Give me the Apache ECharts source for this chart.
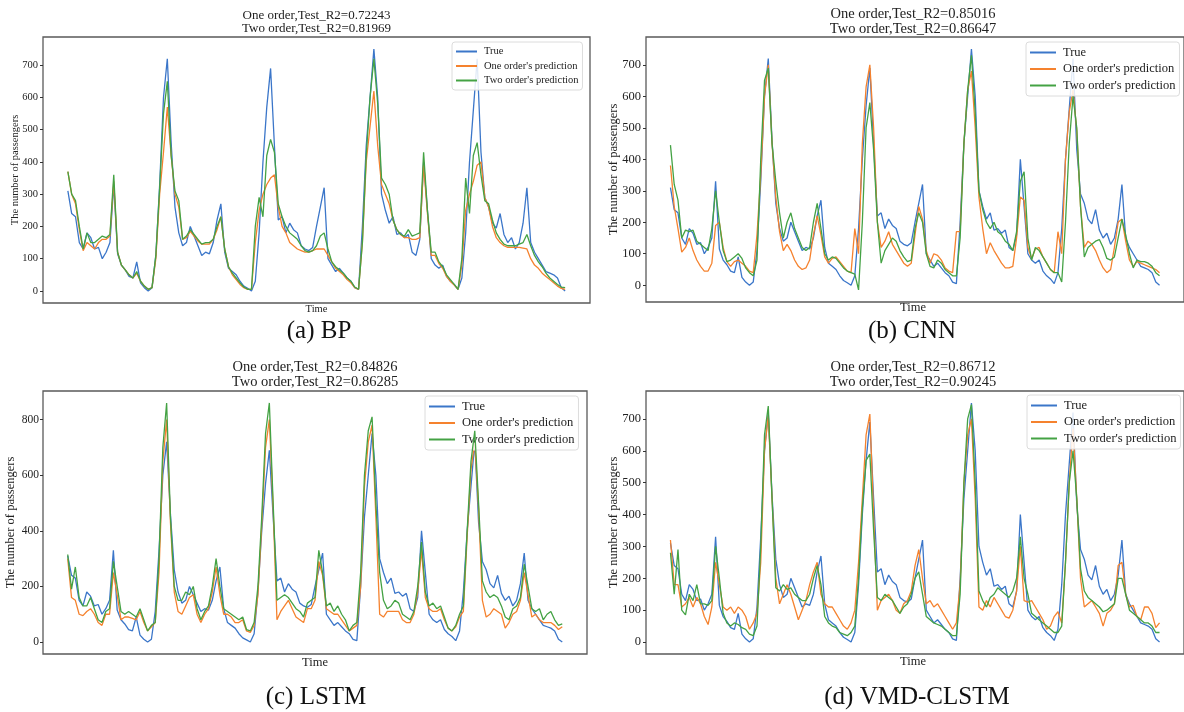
<!DOCTYPE html>
<html>
<head>
<meta charset="utf-8">
<script src="https://cdn.jsdelivr.net/npm/echarts@6/dist/echarts.min.js"></script>
<style>
  html, body { margin: 0; padding: 0; background: #fff; }
  #main { width: 1184px; height: 712px; }
</style>
</head>
<body>
<div id="main"></div>
<script>
// 真实客流（四个子图共用）
var trueValues = [310,240,230,150,130,180,165,130,135,100, 120,150,330,115,80,65,45,40,90,25,
  10,0,10,110,330,600,720,460,260,180, 140,150,200,170,140,110,120,115,150,220,
  270,120,70,60,50,30,15,8,0,30, 180,400,570,690,450,220,230,180,210,190,
  180,140,130,125,135,200,260,320,100,80, 60,70,55,40,30,10,5,200,450,600,
  750,600,300,250,210,230,175,180,165,175, 120,110,160,400,250,100,80,70,80,45,
  30,20,5,40,180,400,560,720,430,290, 260,210,195,240,175,150,165,130,150,210,
  320,150,120,100,80,60,55,50,40,10, 0];

// (a) BP
var bpOne = [370,300,270,190,125,150,140,130,150,160, 160,170,340,120,80,65,50,40,55,30,
  15,5,10,100,300,430,570,420,300,260, 160,165,185,170,155,145,145,145,160,190,
  230,130,75,50,35,20,10,5,5,150, 250,300,330,350,360,260,200,180,150,140,
  130,125,120,120,125,130,130,130,110,90, 70,60,50,35,25,10,5,150,400,510,
  620,450,330,300,270,220,190,175,165,165, 160,160,165,390,240,110,110,85,70,45,
  30,18,5,80,250,300,340,390,400,290, 260,200,165,150,140,135,135,135,135,133,
  130,100,80,70,55,45,35,25,15,8, 5];
var bpTwo = [370,300,280,200,130,180,150,150,160,170, 165,175,360,120,80,65,50,40,60,30,
  15,5,10,110,320,550,650,420,310,280, 160,170,190,175,160,145,150,150,160,200,
  230,130,75,55,40,25,12,5,5,200, 290,230,420,470,430,270,230,200,180,170,
  160,140,125,120,125,140,170,180,130,90, 75,65,55,40,30,12,5,150,420,600,
  720,580,350,330,300,220,190,175,170,190, 170,175,180,430,250,120,120,90,75,50,
  35,20,5,100,350,240,420,460,360,280, 270,220,180,160,145,140,140,140,145,150,
  175,140,110,90,75,55,40,30,20,12, 10];

// (b) CNN
var cnnOne = [380,250,180,105,120,150,110,80,60,45, 45,70,190,200,120,75,60,75,80,70,
  60,45,40,160,350,600,700,450,280,170, 110,130,110,80,60,50,55,80,160,220,
  160,90,70,85,90,75,60,45,40,180, 100,450,630,700,500,200,120,140,170,130,
  110,90,70,60,70,160,250,210,110,70, 100,95,80,55,45,40,170,170,450,620,
  680,500,280,180,100,135,110,90,70,55, 55,60,150,280,270,120,85,115,120,90,
  70,50,40,170,100,400,550,620,490,250, 120,140,130,110,80,55,40,50,120,200,
  210,140,80,60,75,70,65,60,55,50, 40];
var cnnTwo = [445,320,270,150,175,170,175,140,130,120, 110,180,300,200,110,75,80,90,100,85,
  55,40,30,80,400,650,690,450,330,230, 150,200,230,180,150,120,110,120,200,260,
  180,100,80,90,85,70,55,45,40,35, -15,200,500,580,430,200,70,110,130,150,
  140,110,90,75,80,180,230,200,100,60, 55,80,70,50,40,30,30,150,450,620,
  730,550,300,240,200,180,200,170,160,140, 130,110,170,330,360,150,80,120,110,90,
  70,50,40,40,10,200,450,600,500,250, 90,120,130,140,145,120,85,80,90,150,
  210,160,100,55,80,75,75,70,60,40, 30];

// (c) LSTM
var lstmOne = [300,160,150,100,95,110,120,100,70,60, 100,100,250,170,80,90,90,85,80,110,
  70,40,55,70,250,650,800,430,180,110, 100,130,160,170,100,70,100,120,180,270,
  170,100,100,90,70,70,80,40,35,60, 170,420,700,800,480,80,110,130,150,120,
  90,80,70,120,120,150,290,240,120,110, 100,100,80,60,40,50,60,200,560,720,
  780,450,100,90,110,110,110,110,80,70, 70,100,180,330,160,120,110,110,120,80,
  50,40,55,90,110,380,620,720,480,150, 90,100,120,110,100,50,70,100,110,150,
  250,170,90,100,80,70,70,70,60,45, 55];
var lstmTwo = [315,190,270,160,130,130,160,120,80,70, 110,120,290,200,110,100,110,100,90,120,
  80,40,60,70,300,700,860,450,200,150, 150,180,170,200,120,80,110,130,200,300,
  200,120,110,100,90,80,90,45,40,70, 200,450,750,860,500,150,160,170,160,140,
  120,110,90,140,150,160,330,250,130,140, 110,130,100,80,40,60,70,250,600,760,
  810,500,250,150,120,130,150,140,100,90, 80,110,200,360,180,130,140,120,130,90,
  50,40,60,100,130,400,650,760,500,220, 180,160,170,160,130,90,80,120,130,160,
  280,200,120,110,120,80,100,110,80,60, 65];

// (d) VMD-CLSTM
var vmdOne = [320,180,180,110,120,140,110,140,120,80, 55,110,250,180,110,100,110,90,110,100,
  80,40,60,90,250,600,710,450,200,120, 150,180,150,110,70,100,130,180,220,250,
  150,120,110,110,90,70,50,40,60,100, 250,450,650,715,400,100,130,140,150,130,
  100,90,120,130,160,240,290,200,120,130, 110,120,100,80,60,40,60,180,500,650,
  700,450,110,100,130,110,140,120,100,80, 75,100,160,300,130,125,130,110,90,70,
  40,50,80,95,60,250,500,670,450,200, 110,120,130,110,90,50,90,100,120,240,
  250,150,110,115,80,70,110,110,90,45, 60];
var vmdTwo = [280,150,290,100,85,150,130,180,120,120, 115,130,300,200,90,60,50,60,55,45,
  40,25,20,50,300,650,740,450,170,160, 180,165,170,150,140,130,130,150,200,240,
  180,80,60,50,45,30,25,20,30,50, 200,420,570,590,350,140,130,150,140,130,
  110,90,110,120,150,200,220,150,80,70, 60,55,50,40,30,20,20,150,500,700,
  745,500,160,130,110,140,150,170,160,150, 140,160,200,330,200,150,90,80,70,60,
  50,40,30,30,50,250,500,600,450,230, 160,140,130,120,110,95,100,110,120,200,
  200,150,100,90,80,70,60,60,50,30, 30];

var seriesNames = ['True', "One order's prediction", "Two order's prediction"];
var r2One = ['0.72243', '0.85016', '0.84826', '0.86712'];
var r2Two = ['0.81969', '0.86647', '0.86285', '0.90245'];
var captions = ['(a) BP', '(b) CNN', '(c) LSTM', '(d) VMD-CLSTM'];
var yTicks = [[0,100,200,300,400,500,600,700],[0,100,200,300,400,500,600,700],
  [0,200,400,600,800],[0,100,200,300,400,500,600,700]];

var colors = ['#3b76c9', '#f5822e', '#44a244'];
var serif = '"Liberation Serif", "DejaVu Serif", serif';

// 子图布局
var panels = [
  {one: bpOne, two: bpTwo, left: 43, top: 37, width: 547, height: 266, fs: 10.5, tk: 10.5, tm: 5, tfs: 13,
   t1: 16, t2: 29, cap: [319, 331], ylab: 15, time: 309, lg: [452, 42], lgw: 21},
  {one: cnnOne, two: cnnTwo, left: 646, top: 37, width: 541, height: 265, fs: 12.5, tk: 12.5, tm: 5, tfs: 14.5,
   t1: 14, t2: 29, cap: [912, 331], ylab: 614, time: 308, lg: [1026, 42], lgw: 26},
  {one: lstmOne, two: lstmTwo, left: 43, top: 391, width: 544, height: 263, fs: 12.5, tk: 11.5, tm: 4, tfs: 14.5,
   t1: 367, t2: 382, cap: [316, 697], ylab: 11, time: 663, lg: [425, 396], lgw: 26},
  {one: vmdOne, two: vmdTwo, left: 646, top: 391, width: 541, height: 263, fs: 12.5, tk: 12.5, tm: 5, tfs: 14.5,
   t1: 367, t2: 382, cap: [917, 697], ylab: 614, time: 662, lg: [1027, 395], lgw: 26}
];

function pairs(arr){ return arr.map(function(v,i){ return [i, v]; }); }

var grids = [], xAxes = [], yAxes = [], series = [], legends = [], graphics = [];
var n = trueValues.length;
panels.forEach(function(p, k){
  var all = trueValues.concat(p.one, p.two);
  var lo = Math.min.apply(null, all), hi = Math.max.apply(null, all);
  var pad = (hi - lo) * 0.05;
  grids.push({left: p.left, top: p.top, width: p.width, height: p.height, show: true,
    borderColor: '#5a5a5a', borderWidth: 1.3, backgroundColor: '#fff'});
  xAxes.push({type: 'value', gridIndex: k, min: -(n - 1) * 0.05, max: (n - 1) * 1.05, show: false});
  yAxes.push({type: 'value', gridIndex: k, min: lo - pad, max: hi + pad, position: 'left',
    axisLine: {show: false, onZero: false}, splitLine: {show: false},
    axisTick: {show: true, customValues: yTicks[k], length: 3, lineStyle: {color: '#333'}},
    axisLabel: {customValues: yTicks[k], fontFamily: serif, fontSize: p.tk, color: '#222', margin: p.tm}});
  [trueValues, p.one, p.two].forEach(function(arr, j){
    series.push({name: seriesNames[j], type: 'line', xAxisIndex: k, yAxisIndex: k,
      data: pairs(arr), showSymbol: false, symbol: 'none', color: colors[j],
      lineStyle: {width: 1.3, color: colors[j]}, animation: false, z: 2 + j});
  });
  legends.push({data: seriesNames, orient: 'vertical', left: p.lg[0], top: p.lg[1],
    icon: 'rect', itemWidth: p.lgw, itemHeight: 2, itemGap: 3.5,
    padding: [4, 4, 4, 4], backgroundColor: 'rgba(255,255,255,0.85)',
    borderColor: '#dcdcdc', borderWidth: 1, borderRadius: 3, selectedMode: false,
    textStyle: {fontFamily: serif, fontSize: p.fs, color: '#222', padding: [0, 0, 0, 2]}});
  var cx = p.left + p.width / 2;
  if (k % 2 === 1) cx = p.left + 534 / 2;
  graphics.push({type: 'text', x: cx, y: p.t1, silent: true,
    style: {text: 'One order,Test_R2=' + r2One[k], font: p.tfs + 'px ' + serif,
      fill: '#222', align: 'center', verticalAlign: 'middle'}});
  graphics.push({type: 'text', x: cx, y: p.t2, silent: true,
    style: {text: 'Two order,Test_R2=' + r2Two[k], font: p.tfs + 'px ' + serif,
      fill: '#222', align: 'center', verticalAlign: 'middle'}});
  graphics.push({type: 'text', x: cx, y: p.time, silent: true,
    style: {text: 'Time', font: p.fs + 'px ' + serif, fill: '#222',
      align: 'center', verticalAlign: 'middle'}});
  graphics.push({type: 'text', x: p.ylab, y: p.top + p.height / 2, rotation: Math.PI / 2, silent: true,
    style: {text: 'The number of passengers', font: p.fs + 'px ' + serif, fill: '#222',
      align: 'center', verticalAlign: 'middle'}});
  graphics.push({type: 'text', x: p.cap[0], y: p.cap[1], silent: true,
    style: {text: captions[k], font: '25px ' + serif, fill: '#111',
      align: 'center', verticalAlign: 'middle'}});
});

var myChart = echarts.init(document.getElementById('main'));
myChart.setOption({
  backgroundColor: '#fff',
  animation: false,
  grid: grids,
  xAxis: xAxes,
  yAxis: yAxes,
  legend: legends,
  series: series,
  graphic: graphics
});
</script>
</body>
</html>
